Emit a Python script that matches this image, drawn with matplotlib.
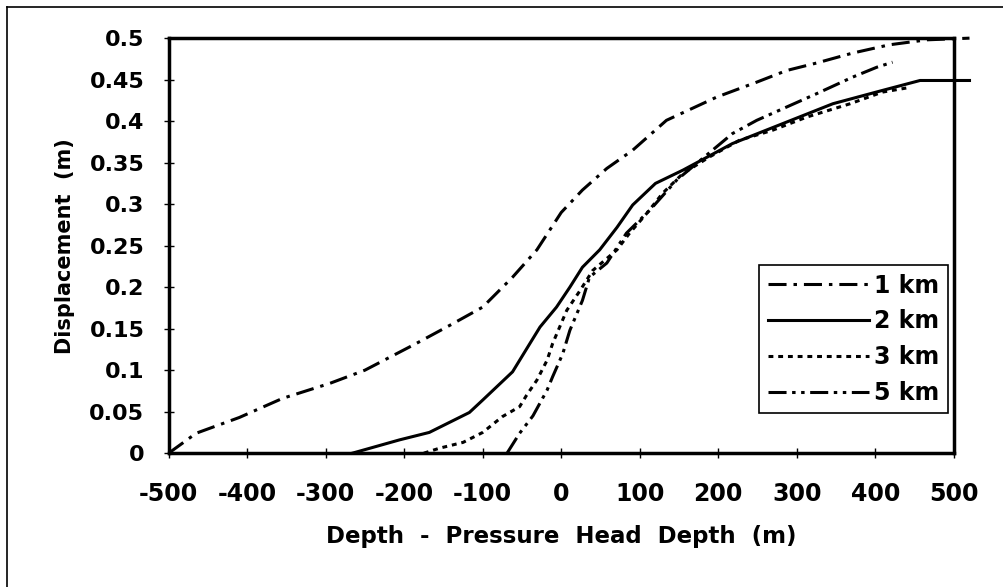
import numpy as np
import matplotlib
matplotlib.use('Agg')
import matplotlib.pyplot as plt
from matplotlib.lines import Line2D

plt.rcParams['font.family'] = ['DejaVu Sans']
plt.rcParams['font.weight'] = 'bold'
plt.rcParams['lines.scale_dashes'] = False
plt.rcParams['axes.unicode_minus'] = False

# values
km1_x = [-500, -465, -410, -355, -295, -250, -185, -140, -100, -62, -31, 0, 27, 58, 91, 134, 198, 249, 287, 325, 371, 418, 466, 520]
km1_y = [0, 0.024, 0.043, 0.066, 0.084, 0.1, 0.132, 0.155, 0.176, 0.212, 0.245, 0.29, 0.317, 0.343, 0.365, 0.401, 0.429, 0.447, 0.461, 0.47, 0.482, 0.492, 0.498, 0.5]

km2_x = [-266, -206, -168, -117, -100, -62, -40, -27, -6, 11, 27, 49, 71, 91, 120, 155, 218, 282, 346, 409, 457, 520]
km2_y = [0, 0.016, 0.025, 0.049, 0.064, 0.098, 0.132, 0.152, 0.176, 0.2, 0.224, 0.245, 0.272, 0.299, 0.325, 0.341, 0.373, 0.397, 0.421, 0.437, 0.449, 0.449]

km3_x = [-175, -155, -125, -100, -75, -53, -44, -31, -18, -11, 7, 24, 40, 71, 87, 109, 129, 155, 189, 227, 269, 313, 368, 409, 440]
km3_y = [0, 0.006, 0.013, 0.025, 0.044, 0.056, 0.07, 0.088, 0.112, 0.132, 0.172, 0.196, 0.22, 0.245, 0.265, 0.289, 0.313, 0.337, 0.357, 0.377, 0.389, 0.405, 0.421, 0.435, 0.44]

km5_x = [-69, -53, -36, -18, -11, 2, 11, 27, 36, 58, 83, 113, 147, 218, 249, 287, 325, 371, 402, 422]
km5_y = [0, 0.024, 0.045, 0.076, 0.092, 0.12, 0.148, 0.184, 0.212, 0.229, 0.265, 0.293, 0.329, 0.385, 0.401, 0.417, 0.433, 0.453, 0.465, 0.471]

x_ticks = np.arange(-500, 501, 100)
y_ticks = np.arange(0, 0.501, 0.05)
y_labels = ['0', '0.05', '0.1', '0.15', '0.2', '0.25', '0.3', '0.35', '0.4', '0.45', '0.5']

fig = plt.figure(figsize=(10.04, 5.87), dpi=100)
ax = fig.add_axes([0.168, 0.228, 0.782, 0.707])

lw = 2.2
ax.plot(km1_x, km1_y, color='black', lw=lw, dashes=(13, 5, 2.5, 5), clip_on=False, label='1 km')
ax.plot(km2_x, km2_y, color='black', lw=lw, clip_on=False, label='2 km')
ax.plot(km3_x, km3_y, color='black', lw=lw, dashes=(3.5, 3.5), clip_on=False, label='3 km')
ax.plot(km5_x, km5_y, color='black', lw=lw, dashes=(13, 4, 2.5, 4, 2.5, 4), clip_on=False, label='5 km')

ax.set_xlim(-500, 500)
ax.set_ylim(0, 0.5)
ax.set_xticks(x_ticks)
ax.set_yticks(y_ticks)
ax.set_yticklabels(y_labels)
ax.tick_params(direction='inout', length=7, width=1)
ax.tick_params(axis='x', labelsize=17, pad=17)
ax.tick_params(axis='y', labelsize=16, pad=14)
for s in ax.spines.values():
    s.set_linewidth(2.5)

ax.set_xlabel('Depth  -  Pressure  Head  Depth  (m)', fontsize=16.5, fontweight='bold', labelpad=14)
ax.set_ylabel('Displacement  (m)', fontsize=15, fontweight='bold', labelpad=10)

leg = ax.legend(loc='lower right', bbox_to_anchor=(0.992, 0.096), fontsize=17, handlelength=4.3,
                handletextpad=0.2, borderpad=0.35, labelspacing=0.5, fancybox=False,
                framealpha=1, edgecolor='black', borderaxespad=0)
leg.get_frame().set_linewidth(1.2)

# outer border of the scanned figure
fig.add_artist(Line2D([7 / 1004, 7 / 1004], [0, 1 - 7 / 587], color='black', lw=1.2))
fig.add_artist(Line2D([7 / 1004, 1], [1 - 7 / 587, 1 - 7 / 587], color='black', lw=1.2))

fig.savefig('out.png', dpi=100)
